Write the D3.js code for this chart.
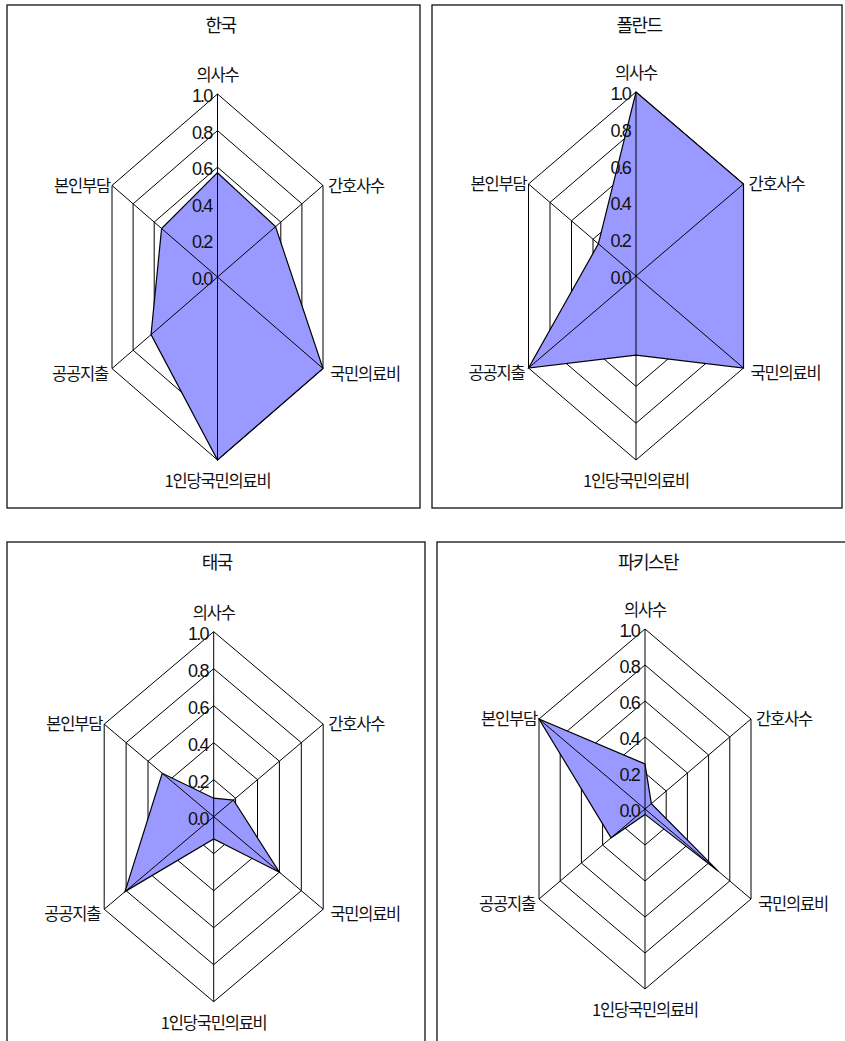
<!DOCTYPE html>
<html>
<head>
<meta charset="utf-8">
<script src="https://cdn.jsdelivr.net/npm/d3@7"></script>
<style>
  body { margin: 0; background: #fff; }
  svg { display: block; }
  .ttl, .lbl { font-family: "Noto Sans CJK KR", sans-serif; fill: #111; }
  .tick { font-family: "Liberation Sans", Arial, sans-serif; fill: #111; }
</style>
</head>
<body>
<svg id="chart" width="845" height="1041"></svg>
<script>
// 의료 지표 레이더 차트 (국가별 상대값)

// Data
const axes = ["의사수", "간호사수", "국민의료비", "1인당국민의료비", "공공지출", "본인부담"];
const countries = ["한국", "폴란드", "태국", "파키스탄"];
const korea = [0.57, 0.55, 1.0, 1.0, 0.63, 0.53];
const poland = [1.0, 1.0, 1.0, 0.43, 1.0, 0.35];
const thailand = [0.10, 0.18, 0.60, 0.12, 0.81, 0.47];
const pakistan = [0.25, 0.06, 0.69, 0.03, 0.32, 1.0];
const tickValues = [0, 0.2, 0.4, 0.6, 0.8, 1.0];
const tickLabels = ["0.0", "0.2", "0.4", "0.6", "0.8", "1.0"];

const seriesList = [korea, poland, thailand, pakistan];

// Panel layout (frame box, center, half-width of hexagon, vertical radius)
const panels = [
  { x: 7,   y: 5,   w: 413, h: 503, cx: 217.5, cy: 277,   hw: 105.5, ry: 183 },
  { x: 432, y: 5,   w: 410, h: 503, cx: 636,   cy: 276,   hw: 107.5, ry: 184 },
  { x: 7,   y: 542, w: 418, h: 520, cx: 213.7, cy: 816.7, hw: 109.5, ry: 185 },
  { x: 437, y: 542, w: 420, h: 520, cx: 645,   cy: 809,   hw: 106,   ry: 180 }
];

const svg = d3.select("#chart");
const angle = d3.scaleLinear().domain([0, axes.length]).range([0, 2 * Math.PI]);
const sin60 = Math.sin(Math.PI / 3);

panels.forEach((p, k) => {
  const g = svg.append("g");
  const rX = d3.scaleLinear().domain([0, 1]).range([0, p.hw / sin60]);
  const rY = d3.scaleLinear().domain([0, 1]).range([0, p.ry]);
  const pt = (v, i) => [p.cx + rX(v) * Math.sin(angle(i)), p.cy - rY(v) * Math.cos(angle(i))];
  const closed = d3.line().curve(d3.curveLinearClosed);

  // frame
  g.append("rect")
    .attr("x", p.x).attr("y", p.y).attr("width", p.w).attr("height", p.h)
    .attr("fill", "#fff").attr("stroke", "#111").attr("stroke-width", 1.3);

  // title
  g.append("text").attr("class", "ttl")
    .attr("x", p.cx + 3).attr("y", p.y + 27)
    .attr("text-anchor", "middle")
    .style("font-size", "18px").style("letter-spacing", "-1.5px")
    .text(countries[k]);

  // grid hexagons
  g.selectAll(".grid")
    .data(tickValues.filter(t => t > 0))
    .join("path")
    .attr("class", "grid")
    .attr("d", t => closed(axes.map((a, i) => pt(t, i))))
    .attr("fill", "none").attr("stroke", "#000").attr("stroke-width", 1);

  // data polygon
  g.append("path")
    .attr("d", closed(seriesList[k].map((v, i) => pt(v, i))))
    .attr("fill", "#9999ff").attr("stroke", "#000").attr("stroke-width", 1.2)
    .attr("stroke-linejoin", "miter");

  // spokes
  g.selectAll(".spoke")
    .data(axes)
    .join("line")
    .attr("class", "spoke")
    .attr("x1", p.cx).attr("y1", p.cy)
    .attr("x2", (a, i) => pt(1, i)[0]).attr("y2", (a, i) => pt(1, i)[1])
    .attr("stroke", "#000").attr("stroke-width", 1);

  // tick labels
  g.selectAll(".tick")
    .data(tickValues)
    .join("text")
    .attr("class", "tick")
    .attr("x", p.cx - 6)
    .attr("y", t => p.cy - rY(t) + 8)
    .attr("text-anchor", "end")
    .style("font-size", "18px").style("letter-spacing", "-1.8px")
    .text((t, i) => tickLabels[i]);

  // axis labels
  g.selectAll(".lbl")
    .data(axes)
    .join("text")
    .attr("class", "lbl")
    .style("font-size", "16.5px").style("letter-spacing", "-1.2px")
    .attr("text-anchor", (a, i) => i === 0 || i === 3 ? "middle" : (i < 3 ? "start" : "end"))
    .attr("x", (a, i) => {
      const [x] = pt(1, i);
      if (i === 0 || i === 3) return x;
      if (i === 1) return x + 5;
      if (i === 2) return x + 7;
      if (i === 4) return x - 4;
      return x - 2;
    })
    .attr("y", (a, i) => {
      const [, y] = pt(1, i);
      if (i === 0) return y - 13;
      if (i === 3) return y + 27;
      if (i === 1 || i === 5) return y + 6;
      return y + 11;
    })
    .text(a => a);
});
</script>
</body>
</html>
